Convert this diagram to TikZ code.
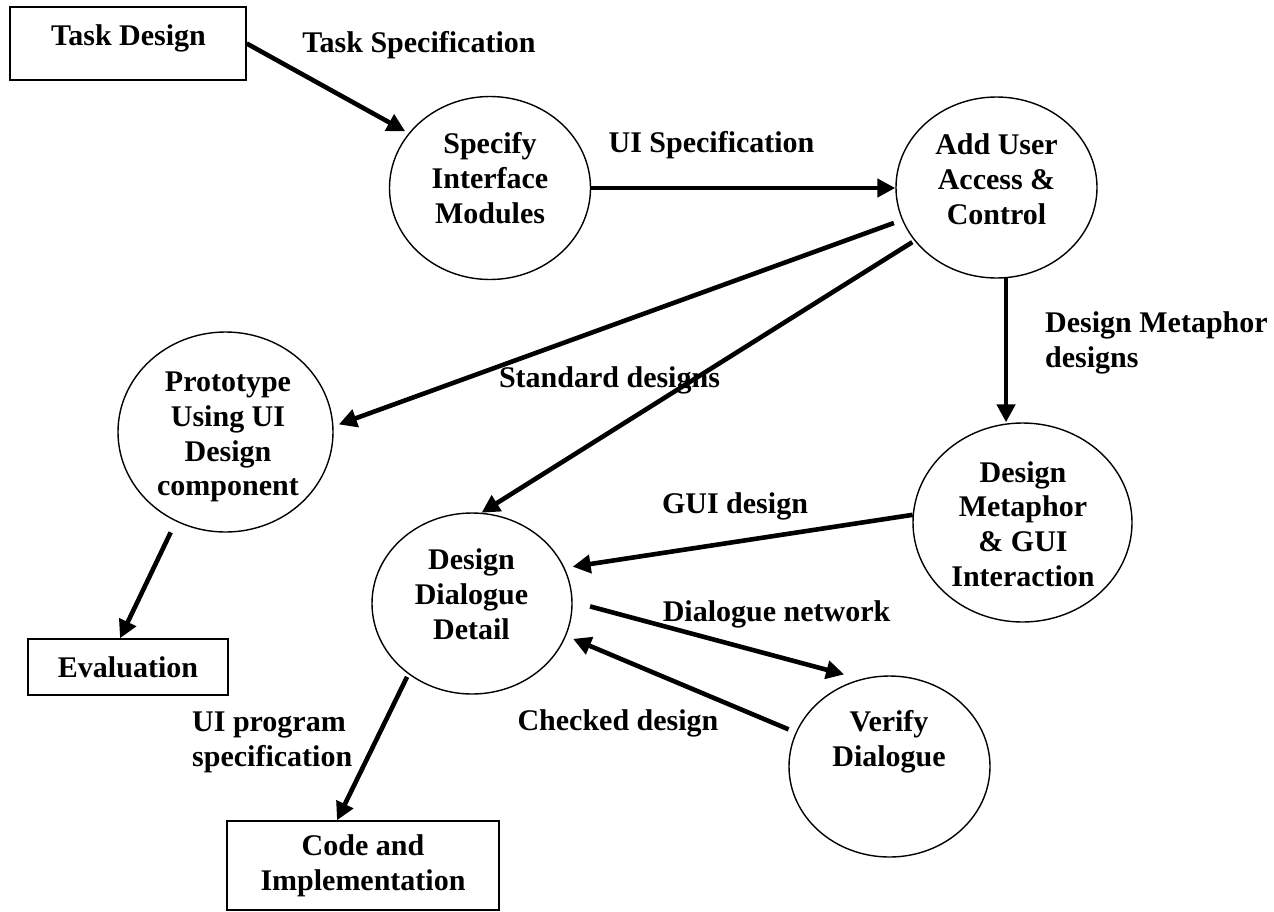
\documentclass[tikz,border=0pt]{standalone}
\usepackage{fontspec}
\setmainfont{Liberation Serif}
\usetikzlibrary{shapes.geometric,arrows.meta,calc}
\begin{document}
\begin{tikzpicture}[x=1pt,y=-1pt,
  every node/.style={font=\bfseries\fontsize{30}{34.8}\selectfont, inner sep=0pt},
  circ/.style={draw, ellipse, line width=1.4pt},
  box/.style={draw, rectangle, line width=1.4pt, align=center},
  txt/.style={align=center},
  ltxt/.style={align=left, anchor=west},
  flow/.style={line width=4.6pt, -{Triangle[length=18pt,width=18pt]}}]
\path[fill=white] (0,0) rectangle (1274,911);
\useasboundingbox (0,0) rectangle (1274,911);
% boxes and circles
\node[box, minimum width=236pt, minimum height=73pt] (task) at (128,43.5) {};
\node[txt] (taskT) at (128.5,38) {Task Design};
\node[circ, minimum width=201pt, minimum height=183pt] (spec) at (490,188) {};
\node[txt] (specT) at (490,178) {Specify\\Interface\\Modules};
\node[circ, minimum width=201pt, minimum height=181pt] (add) at (996.5,187.5) {};
\node[txt] (addT) at (996.5,179) {Add User\\Access \&\\Control};
\node[circ, minimum width=215pt, minimum height=200pt] (proto) at (225.5,432) {};
\node[txt] (protoT) at (228,437) {Prototype\\Using UI\\Design\\component};
\node[circ, minimum width=219pt, minimum height=199pt] (dm) at (1022.5,522.5) {};
\node[txt] (dmT) at (1023,524) {Design\\Metaphor\\\& GUI\\Interaction};
\node[circ, minimum width=200pt, minimum height=181pt] (ddd) at (472,603.5) {};
\node[txt] (dddT) at (471.5,594) {Design\\Dialogue\\Detail};
\node[circ, minimum width=201pt, minimum height=181pt] (ver) at (889.5,766.5) {};
\node[txt] (verT) at (889,742) {Verify\\Dialogue};
\node[box, minimum width=200pt, minimum height=56pt] (eval) at (128,667) {Evaluation};
\node[box, minimum width=272pt, minimum height=89pt] (code) at (363,865.5) {Code and\\Implementation};
% labels
\node[txt] (lTS) at (419,45) {Task Specification};
\node[txt] (lUI) at (711.5,145) {UI Specification};
\node[txt] (lSD) at (609.5,380) {Standard designs};
\node[ltxt] (lDM) at (1045,343) {Design Metaphor\\designs};
\node[txt] (lGUI) at (735,506) {GUI design};
\node[txt] (lDN) at (776.5,614) {Dialogue network};
\node[txt] (lCD) at (618,723) {Checked design};
\node[ltxt] (lUP) at (192,742) {UI program\\specification};
% connectors
\draw[flow, shorten >=4pt] (task.east) -- (spec.146.5);
\draw[flow] (spec.east) -- (spec.east -| add.west);
\draw[flow, shorten <=8.6pt, shorten >=5.6pt] (add.199.8) -- (proto.3.8);
\draw[flow, shorten <=2.5pt] (add.213.2) -- (ddd.84.1);
\draw[flow] (add.-84) -- (add.-84 |- dm.north);
\draw[flow, shorten >=8pt] (dm.176.1) -- (ddd.21);
\draw[flow, shorten <=18pt, shorten >=17.5pt] (ddd.1.9) -- (ver.108.2);
\draw[flow, shorten <=7.7pt, shorten >=7.5pt] (ver.160.2) -- (ddd.-19.8);
\draw[flow, shorten <=12pt] (proto.241.6) -- ($(eval.north)+(-8,0)$);
\draw[flow, shorten <=3pt] (ddd.228.4) -- ($(code.north)+(-26,0)$);
\end{tikzpicture}
\end{document}
